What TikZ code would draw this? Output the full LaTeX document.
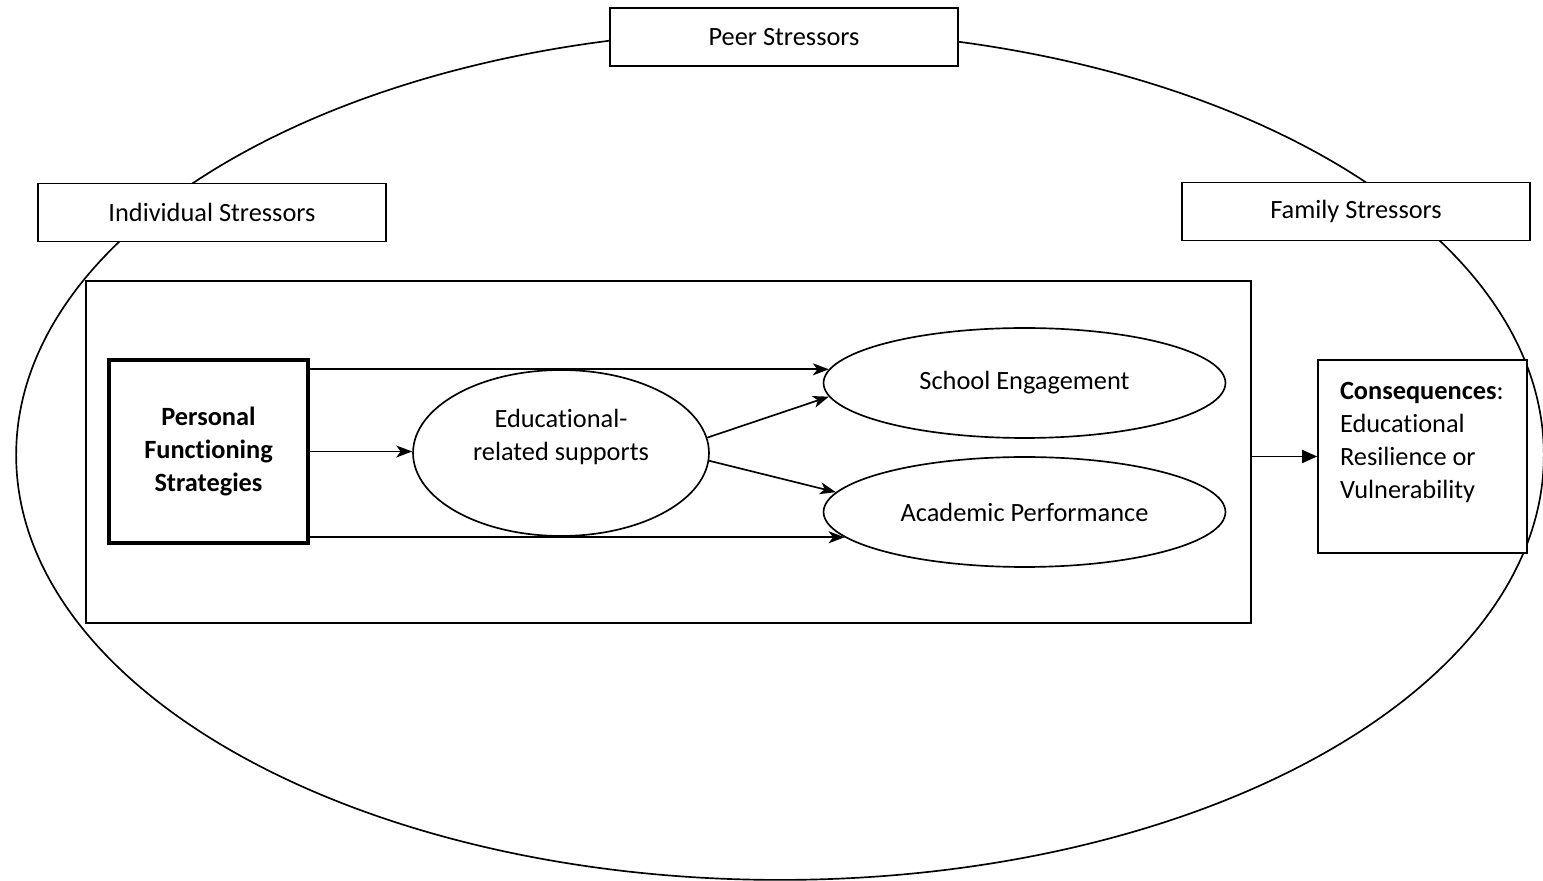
\documentclass[tikz,border=0pt]{standalone}
\usepackage{fontspec}
\setmainfont{Carlito}[Ligatures={NoCommon,NoRare,NoContextual}]
\usetikzlibrary{shapes,arrows.meta,positioning,calc}

\begin{document}
\begin{tikzpicture}[x=0.02cm, y=-0.02cm, line width=0.95pt,
    font=\fontsize{15}{18.8}\selectfont,
    stressor/.style={draw, fill=white, rectangle, minimum width=6.96cm, minimum height=1.16cm},
    oval/.style={draw, fill=white, ellipse, inner sep=0pt},
    arr/.style={-{Stealth[length=0.32cm, width=0.24cm, inset=0.09cm]}}]
    \useasboundingbox (0,0) rectangle (1543,881);

    % outer ring of stressors
    \draw (780,455) ellipse [x radius=15.28cm, y radius=8.5cm];
    \node [stressor] (Peer) at (784,37) {Peer Stressors};
    \node [stressor] (Indiv) at (212,212.5) {Individual Stressors};
    \node [stressor] (Family) at (1356,211.5) {Family Stressors};

    % inner model
    \node [draw, fill=white, rectangle, minimum width=23.3cm, minimum height=6.84cm] (Model) at (668.5,452) {};
    \node [draw, fill=white, rectangle, line width=1.9pt, minimum width=3.98cm, minimum height=3.66cm,
           align=center, font=\fontsize{15}{18.8}\selectfont\bfseries] (PFS) at (208.5,451.5)
          {Personal\\Functioning\\Strategies};
    \node [oval, minimum width=5.92cm, minimum height=3.32cm,
           label={[align=center, yshift=0.32cm]center:{Educational-\\related supports}}] (Edu) at (561,453) {};
    \node [oval, minimum width=8.04cm, minimum height=2.2cm] (School) at (1024.5,383) {School Engagement};
    \node [oval, minimum width=8.04cm, minimum height=2.2cm] (Acad) at (1024.5,512) {Academic Performance};

    \draw [arr] (PFS.east |- School.176) -- (School.176);
    \draw [arr] (PFS.east) -- (PFS.east -| Edu.west);
    \draw [arr] (PFS.east |- Acad.188) -- (Acad.188);
    \draw [arr] (Edu.6) -- (School.184);
    \draw [arr] (Edu.357) -- (Acad.174);

    % outcome
    \node [draw, fill=white, rectangle, minimum width=4.18cm, minimum height=3.86cm,
           label={[align=left, anchor=north west, inner sep=0pt, xshift=0.44cm, yshift=-0.44cm]north west:{\textbf{Consequences}:\\Educational\\Resilience or\\Vulnerability}}] (Cons) at (1422.5,456.5) {};
    \draw [-{Triangle[length=0.3cm, width=0.26cm]}] (Model.east |- Cons.west) -- (Cons.west);

\end{tikzpicture}
\end{document}
